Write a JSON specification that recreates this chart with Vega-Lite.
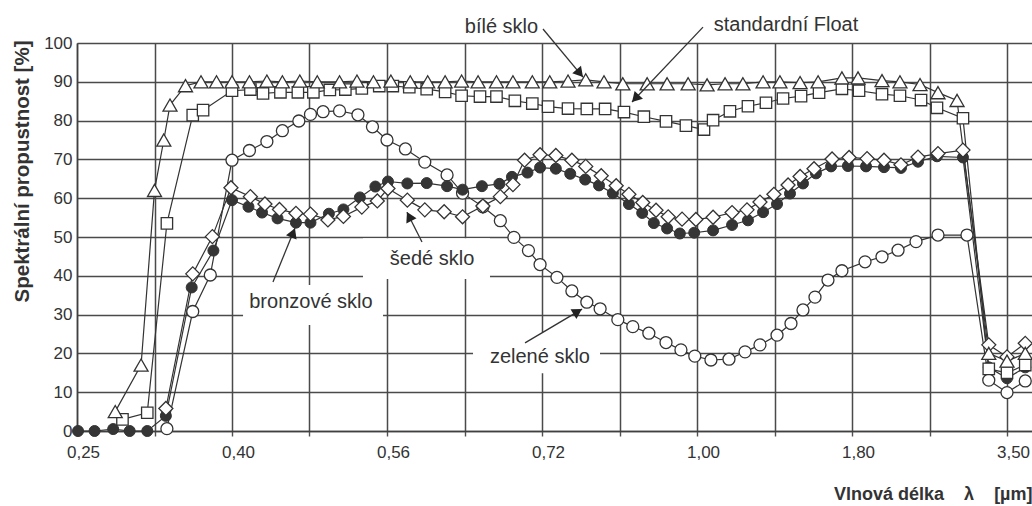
{
  "$schema": "https://vega.github.io/schema/vega-lite/v6.json",
  "width": 955,
  "height": 388,
  "autosize": {"type": "none"},
  "padding": {"left": 77, "top": 43, "right": 0, "bottom": 75},
  "background": "white",
  "config": {"view": {"stroke": null}, "font": "Liberation Sans"},
  "datasets": {
    "glass": [
      {"g":"b","l":0.287,"t":5},{"g":"b","l":0.312,"t":17},{"g":"b","l":0.325,"t":62},{"g":"b","l":0.334,"t":75},{"g":"b","l":0.340,"t":84},{"g":"b","l":0.355,"t":89},{"g":"b","l":0.370,"t":90},{"g":"b","l":0.385,"t":90},{"g":"b","l":0.400,"t":90},{"g":"b","l":0.418,"t":90},{"g":"b","l":0.436,"t":90.2},{"g":"b","l":0.452,"t":90},{"g":"b","l":0.470,"t":90.2},{"g":"b","l":0.488,"t":90},{"g":"b","l":0.511,"t":90},{"g":"b","l":0.529,"t":90.2},{"g":"b","l":0.546,"t":90},{"g":"b","l":0.564,"t":90.2},{"g":"b","l":0.584,"t":90},{"g":"b","l":0.602,"t":90},{"g":"b","l":0.620,"t":90},{"g":"b","l":0.637,"t":90.2},{"g":"b","l":0.654,"t":90},{"g":"b","l":0.673,"t":90},{"g":"b","l":0.690,"t":90},{"g":"b","l":0.710,"t":90},{"g":"b","l":0.734,"t":90},{"g":"b","l":0.767,"t":90.2},{"g":"b","l":0.799,"t":90.5},{"g":"b","l":0.832,"t":90},{"g":"b","l":0.866,"t":89.5},{"g":"b","l":0.910,"t":89.5},{"g":"b","l":0.946,"t":89.5},{"g":"b","l":0.984,"t":89.5},{"g":"b","l":1.052,"t":89.2},{"g":"b","l":1.145,"t":89.5},{"g":"b","l":1.237,"t":89.5},{"g":"b","l":1.341,"t":90},{"g":"b","l":1.428,"t":90},{"g":"b","l":1.532,"t":89.8},{"g":"b","l":1.625,"t":90},{"g":"b","l":1.748,"t":91},{"g":"b","l":1.866,"t":91},{"g":"b","l":2.129,"t":90.3},{"g":"b","l":2.326,"t":90},{"g":"b","l":2.546,"t":89.3},{"g":"b","l":2.743,"t":87.2},{"g":"b","l":2.952,"t":85.2},{"g":"b","l":3.30,"t":20},{"g":"b","l":3.50,"t":18},{"g":"b","l":3.70,"t":20},
      {"g":"s","l":0.294,"t":3},{"g":"s","l":0.318,"t":4.7},{"g":"s","l":0.337,"t":53.5},{"g":"s","l":0.362,"t":81.4},{"g":"s","l":0.372,"t":82.7},{"g":"s","l":0.400,"t":87.7},{"g":"s","l":0.419,"t":88},{"g":"s","l":0.432,"t":87},{"g":"s","l":0.450,"t":87.3},{"g":"s","l":0.468,"t":87.3},{"g":"s","l":0.484,"t":87.3},{"g":"s","l":0.501,"t":87.9},{"g":"s","l":0.517,"t":88},{"g":"s","l":0.534,"t":88.3},{"g":"s","l":0.552,"t":88.9},{"g":"s","l":0.566,"t":88.9},{"g":"s","l":0.583,"t":88.6},{"g":"s","l":0.601,"t":88.1},{"g":"s","l":0.620,"t":87.4},{"g":"s","l":0.637,"t":86.4},{"g":"s","l":0.656,"t":86.2},{"g":"s","l":0.673,"t":86.2},{"g":"s","l":0.692,"t":85.1},{"g":"s","l":0.710,"t":84.4},{"g":"s","l":0.731,"t":83.6},{"g":"s","l":0.767,"t":83.1},{"g":"s","l":0.801,"t":83},{"g":"s","l":0.834,"t":83},{"g":"s","l":0.868,"t":82.2},{"g":"s","l":0.904,"t":81},{"g":"s","l":0.944,"t":79.8},{"g":"s","l":0.980,"t":78.7},{"g":"s","l":1.036,"t":77.7},{"g":"s","l":1.083,"t":80.1},{"g":"s","l":1.170,"t":82.4},{"g":"s","l":1.263,"t":83.7},{"g":"s","l":1.356,"t":84.6},{"g":"s","l":1.444,"t":85.7},{"g":"s","l":1.537,"t":86.3},{"g":"s","l":1.630,"t":87.2},{"g":"s","l":1.748,"t":88.2},{"g":"s","l":1.877,"t":87.7},{"g":"s","l":2.129,"t":86.8},{"g":"s","l":2.326,"t":86.4},{"g":"s","l":2.557,"t":85.3},{"g":"s","l":2.732,"t":83.3},{"g":"s","l":3.017,"t":80.6},{"g":"s","l":3.30,"t":16},{"g":"s","l":3.50,"t":15},{"g":"s","l":3.70,"t":17},
      {"g":"z","l":0.337,"t":0.6},{"g":"z","l":0.362,"t":30.8},{"g":"z","l":0.379,"t":40.2},{"g":"z","l":0.400,"t":69.8},{"g":"z","l":0.418,"t":72.3},{"g":"z","l":0.436,"t":74.6},{"g":"z","l":0.452,"t":77.4},{"g":"z","l":0.469,"t":79.9},{"g":"z","l":0.481,"t":81.6},{"g":"z","l":0.494,"t":82.3},{"g":"z","l":0.511,"t":82.5},{"g":"z","l":0.530,"t":81.5},{"g":"z","l":0.545,"t":78.4},{"g":"z","l":0.560,"t":75},{"g":"z","l":0.579,"t":72.7},{"g":"z","l":0.599,"t":69.3},{"g":"z","l":0.622,"t":66},{"g":"z","l":0.638,"t":61.3},{"g":"z","l":0.659,"t":57.8},{"g":"z","l":0.677,"t":54.2},{"g":"z","l":0.691,"t":49.9},{"g":"z","l":0.706,"t":46.5},{"g":"z","l":0.718,"t":42.9},{"g":"z","l":0.747,"t":39.6},{"g":"z","l":0.774,"t":36.1},{"g":"z","l":0.801,"t":33.2},{"g":"z","l":0.825,"t":31.5},{"g":"z","l":0.857,"t":28.7},{"g":"z","l":0.884,"t":26.9},{"g":"z","l":0.913,"t":25.2},{"g":"z","l":0.944,"t":22.8},{"g":"z","l":0.971,"t":20.9},{"g":"z","l":0.996,"t":19.3},{"g":"z","l":1.072,"t":18.3},{"g":"z","l":1.165,"t":18.5},{"g":"z","l":1.248,"t":20.4},{"g":"z","l":1.325,"t":22.2},{"g":"z","l":1.413,"t":24.7},{"g":"z","l":1.485,"t":27.7},{"g":"z","l":1.547,"t":31.2},{"g":"z","l":1.609,"t":34.5},{"g":"z","l":1.676,"t":38.9},{"g":"z","l":1.748,"t":41.3},{"g":"z","l":1.943,"t":43.6},{"g":"z","l":2.129,"t":44.9},{"g":"z","l":2.305,"t":46.6},{"g":"z","l":2.502,"t":48.8},{"g":"z","l":2.743,"t":50.5},{"g":"z","l":3.061,"t":50.5},{"g":"z","l":3.30,"t":13.1},{"g":"z","l":3.50,"t":9.9},{"g":"z","l":3.70,"t":12.9},
      {"g":"r","l":0.251,"t":0},{"g":"r","l":0.267,"t":0},{"g":"r","l":0.285,"t":0.5},{"g":"r","l":0.301,"t":0},{"g":"r","l":0.318,"t":0},{"g":"r","l":0.336,"t":3.9},{"g":"r","l":0.361,"t":37},{"g":"r","l":0.382,"t":46.5},{"g":"r","l":0.400,"t":59.5},{"g":"r","l":0.417,"t":57.8},{"g":"r","l":0.431,"t":56.3},{"g":"r","l":0.447,"t":54.8},{"g":"r","l":0.466,"t":53.7},{"g":"r","l":0.481,"t":53.7},{"g":"r","l":0.500,"t":56},{"g":"r","l":0.515,"t":57.1},{"g":"r","l":0.532,"t":60.2},{"g":"r","l":0.548,"t":63},{"g":"r","l":0.561,"t":64.3},{"g":"r","l":0.581,"t":63.8},{"g":"r","l":0.601,"t":63.9},{"g":"r","l":0.622,"t":63.1},{"g":"r","l":0.638,"t":62.2},{"g":"r","l":0.658,"t":63.1},{"g":"r","l":0.676,"t":63.7},{"g":"r","l":0.689,"t":65.5},{"g":"r","l":0.705,"t":66.6},{"g":"r","l":0.718,"t":67.9},{"g":"r","l":0.745,"t":67.6},{"g":"r","l":0.771,"t":66.3},{"g":"r","l":0.798,"t":64.8},{"g":"r","l":0.823,"t":63.3},{"g":"r","l":0.848,"t":61.3},{"g":"r","l":0.877,"t":58.5},{"g":"r","l":0.901,"t":56.2},{"g":"r","l":0.922,"t":53.6},{"g":"r","l":0.946,"t":52.2},{"g":"r","l":0.969,"t":50.9},{"g":"r","l":0.995,"t":51.1},{"g":"r","l":1.083,"t":51.7},{"g":"r","l":1.181,"t":53.1},{"g":"r","l":1.263,"t":54.3},{"g":"r","l":1.341,"t":56.4},{"g":"r","l":1.413,"t":58.5},{"g":"r","l":1.480,"t":61.2},{"g":"r","l":1.547,"t":63.8},{"g":"r","l":1.614,"t":66.4},{"g":"r","l":1.692,"t":68.2},{"g":"r","l":1.779,"t":68.3},{"g":"r","l":1.954,"t":68.2},{"g":"r","l":2.151,"t":68},{"g":"r","l":2.337,"t":67.8},{"g":"r","l":2.524,"t":69.4},{"g":"r","l":2.732,"t":70.8},{"g":"r","l":3.017,"t":70.5},{"g":"r","l":3.30,"t":16.4},{"g":"r","l":3.50,"t":13.6},{"g":"r","l":3.70,"t":16.4},
      {"g":"d","l":0.336,"t":5.8},{"g":"d","l":0.362,"t":40.5},{"g":"d","l":0.381,"t":50.1},{"g":"d","l":0.399,"t":62.7},{"g":"d","l":0.419,"t":60.4},{"g":"d","l":0.434,"t":58.5},{"g":"d","l":0.449,"t":57.1},{"g":"d","l":0.466,"t":56.1},{"g":"d","l":0.481,"t":55.9},{"g":"d","l":0.499,"t":54.4},{"g":"d","l":0.515,"t":55.3},{"g":"d","l":0.534,"t":57.7},{"g":"d","l":0.550,"t":59.3},{"g":"d","l":0.561,"t":62.5},{"g":"d","l":0.581,"t":59.5},{"g":"d","l":0.599,"t":57},{"g":"d","l":0.619,"t":56.5},{"g":"d","l":0.638,"t":55.2},{"g":"d","l":0.659,"t":58},{"g":"d","l":0.677,"t":60.4},{"g":"d","l":0.690,"t":63.5},{"g":"d","l":0.702,"t":69.8},{"g":"d","l":0.718,"t":71.2},{"g":"d","l":0.745,"t":71},{"g":"d","l":0.774,"t":69.8},{"g":"d","l":0.799,"t":68.2},{"g":"d","l":0.827,"t":65.8},{"g":"d","l":0.854,"t":63.2},{"g":"d","l":0.877,"t":61},{"g":"d","l":0.902,"t":58.9},{"g":"d","l":0.926,"t":56.9},{"g":"d","l":0.948,"t":55.2},{"g":"d","l":0.973,"t":54.6},{"g":"d","l":0.998,"t":54.5},{"g":"d","l":1.083,"t":55.1},{"g":"d","l":1.181,"t":56.3},{"g":"d","l":1.258,"t":57},{"g":"d","l":1.325,"t":59},{"g":"d","l":1.397,"t":61},{"g":"d","l":1.470,"t":63.4},{"g":"d","l":1.532,"t":65.6},{"g":"d","l":1.604,"t":67.6},{"g":"d","l":1.697,"t":70.1},{"g":"d","l":1.785,"t":70.5},{"g":"d","l":1.965,"t":70.2},{"g":"d","l":2.151,"t":69.8},{"g":"d","l":2.337,"t":68.6},{"g":"d","l":2.524,"t":70.6},{"g":"d","l":2.743,"t":71.5},{"g":"d","l":3.017,"t":72.4},{"g":"d","l":3.30,"t":22.2},{"g":"d","l":3.50,"t":19.1},{"g":"d","l":3.70,"t":22.6}
    ],
    "boxes": [
      {"l":0.4114,"l2":0.5559,"t":27.3,"t2":37.6},
      {"l":0.5352,"l2":0.6663,"t":39.2,"t2":49.7},
      {"l":0.6488,"l2":0.8248,"t":14.9,"t2":25.5}
    ],
    "labels": [
      {"txt":"bronzové sklo","l":0.4815,"t":33.2},
      {"txt":"šedé sklo","l":0.6065,"t":44.3},
      {"txt":"zelené sklo","l":0.7179,"t":19.1},
      {"txt":"bílé sklo","l":0.6782,"t":104.1},
      {"txt":"standardní Float","l":1.4594,"t":104.6}
    ],
    "arrows": [
      {"l":0.4423,"t":38.4,"l2":0.4650,"t2":52.3},
      {"l":0.5961,"t":48.7,"l2":0.5806,"t2":56.4},
      {"l":0.7025,"t":22.7,"l2":0.7923,"t2":31.4},
      {"l":0.7218,"t":103.6,"l2":0.7941,"t2":91.2},
      {"l":1.031,"t":104.1,"l2":0.8826,"t2":84.8}
    ],
    "heads": [
      {"l":0.4631,"t":51.1,"ang":22},
      {"l":0.5829,"t":55.3,"ang":333},
      {"l":0.7845,"t":30.8,"ang":59},
      {"l":0.7883,"t":92.2,"ang":140},
      {"l":0.8887,"t":85.7,"ang":223}
    ]
  },
  "encoding": {
    "x": {
      "field": "l", "type": "quantitative",
      "scale": {"type": "linear", "domain": [0.25, 0.4, 0.56, 0.72, 1, 1.8, 3.5, 3.774], "range": [0, 155, 310, 465, 620, 775, 930, 955], "nice": false, "zero": false},
      "axis": {
        "values": [0.25, 0.325, 0.4, 0.48, 0.56, 0.64, 0.72, 0.86, 1, 1.4, 1.8, 2.65, 3.5],
        "labelExpr": "indexof([0.25,0.4,0.56,0.72,1,1.8,3.5], datum.value) >= 0 ? replace(format(datum.value, '.2f'), '.', ',') : ''",
        "labelOverlap": false, "labelFlush": false, "labelOffset": 6,
        "labelFontSize": 17, "labelColor": "#333", "labelPadding": 8,
        "tickSize": 5, "tickColor": "#505050", "tickWidth": 1.4,
        "grid": true, "gridColor": "#4a4a4a", "gridWidth": 1.5, "gridOpacity": 1,
        "domainColor": "#404040", "domainWidth": 1.5,
        "title": "Vlnová délka\u00a0\u00a0\u00a0\u00a0λ\u00a0\u00a0\u00a0\u00a0[µm]", "titleFontSize": 18, "titleFontWeight": "bold", "titleColor": "#333",
        "titleX": 955, "titleY": 63, "titleAlign": "right", "titleBaseline": "middle"
      }
    },
    "y": {
      "field": "t", "type": "quantitative",
      "scale": {"domain": [0, 100], "nice": false, "zero": false},
      "axis": {
        "values": [0, 10, 20, 30, 40, 50, 60, 70, 80, 90, 100],
        "labelFontSize": 17, "labelColor": "#333", "labelPadding": 5, "labelFlush": false,
        "ticks": false, "tickSize": 0,
        "grid": true, "gridColor": "#4a4a4a", "gridWidth": 1.5, "gridOpacity": 1,
        "domainColor": "#404040", "domainWidth": 1.5,
        "title": "Spektrální propustnost [%]", "titleFontSize": 20.5, "titleFontWeight": "bold", "titleColor": "#333",
        "titleX": -55, "titleY": -3, "titleAlign": "right", "titleAngle": 270, "titleBaseline": "middle"
      }
    }
  },
  "layer": [
    {"data": {"name": "boxes"}, "mark": {"type": "rect", "fill": "white", "stroke": null}, "encoding": {"x2": {"field": "l2"}, "y2": {"field": "t2"}}},
    {"data": {"name": "glass"}, "mark": {"type": "line", "color": "#333", "strokeWidth": 1.2}, "encoding": {"detail": {"field": "g"}}},
    {"data": {"name": "glass"}, "transform": [{"filter": "datum.g === 'z'"}], "mark": {"type": "point", "shape": "circle", "filled": true, "fill": "white", "stroke": "#333", "strokeWidth": 1.3, "size": 144, "opacity": 1}},
    {"data": {"name": "glass"}, "transform": [{"filter": "datum.g === 'r'"}], "mark": {"type": "point", "shape": "circle", "filled": true, "fill": "#353535", "stroke": "#333", "strokeWidth": 1, "size": 121, "opacity": 1}},
    {"data": {"name": "glass"}, "transform": [{"filter": "datum.g === 'd'"}], "mark": {"type": "point", "shape": "diamond", "filled": true, "fill": "white", "stroke": "#333", "strokeWidth": 1.3, "size": 196, "opacity": 1}},
    {"data": {"name": "glass"}, "transform": [{"filter": "datum.g === 's'"}], "mark": {"type": "point", "shape": "square", "filled": true, "fill": "white", "stroke": "#333", "strokeWidth": 1.3, "size": 130, "opacity": 1}},
    {"data": {"name": "glass"}, "transform": [{"filter": "datum.g === 'b'"}], "mark": {"type": "point", "shape": "triangle-up", "filled": true, "fill": "white", "stroke": "#333", "strokeWidth": 1.3, "size": 196, "opacity": 1}},
    {"data": {"name": "arrows"}, "mark": {"type": "rule", "color": "#333", "strokeWidth": 1.3}, "encoding": {"x2": {"field": "l2"}, "y2": {"field": "t2"}}},
    {"data": {"name": "heads"}, "mark": {"type": "point", "shape": "triangle-up", "filled": true, "color": "#222", "size": 130, "opacity": 1}, "encoding": {"angle": {"field": "ang", "type": "quantitative", "scale": null}}},
    {"data": {"name": "labels"}, "mark": {"type": "text", "fontSize": 20, "color": "#333", "align": "center", "baseline": "middle"}, "encoding": {"text": {"field": "txt"}}}
  ]
}
